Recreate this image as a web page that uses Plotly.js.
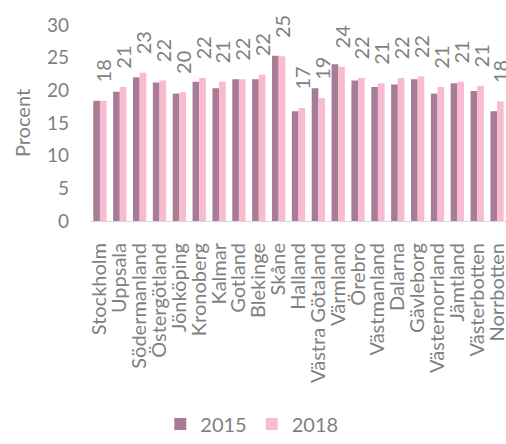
<!DOCTYPE html>
<html>
<head>
<meta charset="utf-8">
<script src="https://cdn.plot.ly/plotly-3.0.1.min.js"></script>
<style>
html, body { margin: 0; padding: 0; overflow: hidden; background: #ffffff; }
#chart { width: 508px; height: 444px; }
</style>
</head>
<body>
<div id="chart"></div>
<script>
const regions = ["Stockholm", "Uppsala", "Södermanland", "Östergötland", "Jönköping", "Kronoberg", "Kalmar", "Gotland", "Blekinge", "Skåne", "Halland", "Västra Götaland", "Värmland", "Örebro", "Västmanland", "Dalarna", "Gävleborg", "Västernorrland", "Jämtland", "Västerbotten", "Norrbotten"];
const values2015 = [18.4, 19.8, 22.0, 21.2, 19.5, 21.3, 20.3, 21.7, 21.7, 25.3, 16.8, 20.3, 24.0, 21.5, 20.5, 20.9, 21.7, 19.5, 21.1, 19.9, 16.8];
const values2018 = [18.4, 20.5, 22.7, 21.5, 19.7, 21.9, 21.3, 21.7, 22.4, 25.2, 17.3, 18.8, 23.6, 21.9, 21.1, 21.9, 22.1, 20.5, 21.3, 20.7, 18.3];
const labels2018 = ["18", "21", "23", "22", "20", "22", "21", "22", "22", "25", "17", "19", "24", "22", "21", "22", "22", "21", "21", "21", "18"];
const seriesNames = ["2015", "2018"];
const yTicks = [0, 5, 10, 15, 20, 25, 30];

const grey = "#7f7f7f";
const fontFamily = "Lato, 'Open Sans', sans-serif";

const traces = [
  {
    type: "bar",
    name: seriesNames[0],
    x: regions,
    y: values2015,
    marker: { color: "#a87c96" },
    hoverinfo: "x+y"
  },
  {
    type: "bar",
    name: seriesNames[1],
    x: regions,
    y: values2018,
    text: labels2018,
    texttemplate: "\u00a0\u00a0\u00a0%{text}",
    textposition: "outside",
    textangle: -90,
    constraintext: "none",
    cliponaxis: false,
    textfont: { color: grey, size: 20, family: fontFamily },
    marker: { color: "#f8bbd0" },
    hoverinfo: "x+y"
  }
];

const layout = {
  width: 508,
  height: 444,
  margin: { l: 90, r: 1, t: 25, b: 223, pad: 0 },
  paper_bgcolor: "#ffffff",
  plot_bgcolor: "#ffffff",
  font: { family: fontFamily, color: grey, size: 20 },
  barmode: "group",
  bargap: 0.33,
  bargroupgap: 0,
  showlegend: true,
  legend: {
    orientation: "h",
    x: 0.388,
    xanchor: "center",
    y: -1.135,
    yanchor: "bottom",
    font: { size: 20, color: grey, family: fontFamily },
    itemwidth: 30,
    traceorder: "normal"
  },
  xaxis: {
    type: "category",
    tickmode: "array",
    tickvals: regions,
    ticktext: regions,
    tickangle: -90,
    tickfont: { size: 20, color: grey, family: fontFamily },
    showline: true,
    linecolor: "#d9d9d9",
    linewidth: 1,
    ticks: "",
    showgrid: false,
    zeroline: false,
    automargin: false,
    ticklabelstandoff: 13
  },
  yaxis: {
    range: [0, 30],
    tickvals: yTicks,
    ticktext: yTicks.map(String),
    tickfont: { size: 19, color: grey, family: fontFamily },
    showgrid: false,
    zeroline: false,
    showline: false,
    ticks: "",
    automargin: false,
    ticklabelstandoff: 20,
    title: { text: "Procent", font: { size: 20, color: grey, family: fontFamily }, standoff: 10 }
  }
};

Plotly.newPlot("chart", traces, layout, { displayModeBar: false, staticPlot: true });
</script>
</body>
</html>
